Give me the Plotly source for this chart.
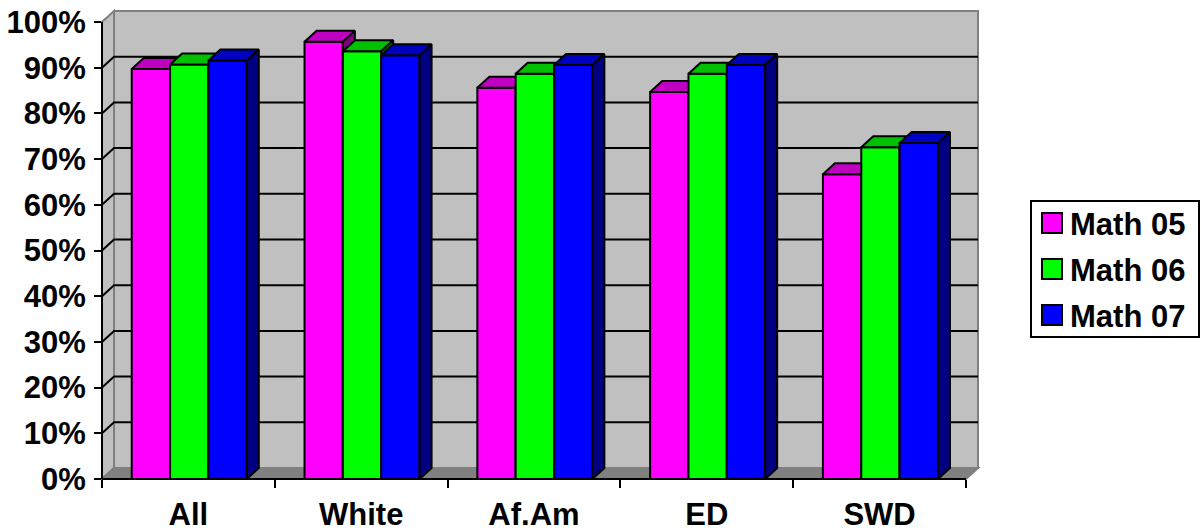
import plotly.graph_objects as go

# ---------------- data ----------------
categories = ["All", "White", "Af.Am", "ED", "SWD"]
series_names = ["Math 05", "Math 06", "Math 07"]
math05 = [89.7, 95.7, 85.6, 84.7, 66.7]
math06 = [90.7, 93.6, 88.7, 88.7, 72.6]
math07 = [91.6, 92.7, 90.6, 90.6, 73.5]
y_tick_values = [0, 10, 20, 30, 40, 50, 60, 70, 80, 90, 100]
y_tick_labels = [f"{v}%" for v in y_tick_values]

series_values = [math05, math06, math07]
front_colors = ["#FF00FF", "#00FF00", "#0000FF"]
top_colors = ["#C000C0", "#00C000", "#0000C0"]
side_colors = ["#800080", "#008000", "#000080"]

# ---------------- geometry / layout ----------------
W, H = 1201, 532
L_PX, R_PX, T_PX, B_PX = 102, 978, 11, 479
cat_px = (965 - 102) / 5.0
DX = 12 / cat_px                 # depth offset (x units)
y_px_per = (479 - 22) / 100.0
DY = 11 / y_px_per               # depth offset (y units)
XMIN, XMAX = -0.5, 4.5 + DX
YMIN, YMAX = 0.0, 100.0 + DY
BAR_W = 38.3 / cat_px
BAR_OFF = 29.7 / cat_px

FONT = "Liberation Sans, Arial, Helvetica, sans-serif"
FSIZE = 31


def xp(x):
    return (x - XMIN) / (XMAX - XMIN)


def yp(y):
    return (y - YMIN) / (YMAX - YMIN)


def px_x(p):
    return (p - L_PX) / (R_PX - L_PX)


def px_y(p):
    return (B_PX - p) / (B_PX - T_PX)


def poly(points):
    return "M " + " L ".join(f"{xp(a):.5f},{yp(b):.5f}" for a, b in points) + " Z"


def pline(points):
    return "M " + " L ".join(f"{xp(a):.5f},{yp(b):.5f}" for a, b in points)


fig = go.Figure()
xs = list(range(len(categories)))

for j, (name, vals) in enumerate(zip(series_names, series_values)):
    off = -0.5 + BAR_OFF + j * BAR_W
    fig.add_trace(go.Bar(
        x=xs, y=vals, width=BAR_W, offset=off, name=name,
        marker=dict(color=front_colors[j], line=dict(color="black", width=2)),
        showlegend=False, hoverinfo="skip", zorder=2 * j,
    ))
    tx, ty, sx, sy = [], [], [], []
    for i, v in enumerate(vals):
        l = i + off
        r = l + BAR_W
        tx += [l, r, r + DX, l + DX, l, None]
        ty += [v, v, v + DY, v + DY, v, None]
        sx += [r, r, r + DX, r + DX, r, None]
        sy += [0, v, v + DY, DY, 0, None]
    fig.add_trace(go.Scatter(
        x=tx, y=ty, mode="lines", fill="toself", fillcolor=top_colors[j],
        line=dict(color="black", width=2), showlegend=False,
        hoverinfo="skip", zorder=2 * j + 1,
    ))
    fig.add_trace(go.Scatter(
        x=sx, y=sy, mode="lines", fill="toself", fillcolor=side_colors[j],
        line=dict(color="black", width=2), showlegend=False,
        hoverinfo="skip", zorder=2 * j + 1,
    ))

shapes = []
# back wall
shapes.append(dict(type="path", xref="paper", yref="paper", layer="below",
                   path=poly([(XMIN + DX, DY), (4.5 + DX, DY), (4.5 + DX, 100 + DY), (XMIN + DX, 100 + DY)]),
                   fillcolor="#C0C0C0", line=dict(color="#808080", width=2)))
# left wall
shapes.append(dict(type="path", xref="paper", yref="paper", layer="below",
                   path=poly([(XMIN, 0), (XMIN, 100), (XMIN + DX, 100 + DY), (XMIN + DX, DY)]),
                   fillcolor="#C0C0C0", line=dict(color="#808080", width=2)))
# floor
shapes.append(dict(type="path", xref="paper", yref="paper", layer="below",
                   path=poly([(XMIN, 0), (4.5, 0), (4.5 + DX, DY), (XMIN + DX, DY)]),
                   fillcolor="#808080", line=dict(color="#808080", width=2)))
# gridlines
for v in y_tick_values[1:-1]:
    shapes.append(dict(type="path", xref="paper", yref="paper", layer="below",
                       path=pline([(XMIN, v), (XMIN + DX, v + DY), (4.5 + DX, v + DY)]),
                       line=dict(color="black", width=2)))
# axis lines
shapes.append(dict(type="line", xref="paper", yref="paper", layer="above",
                   x0=xp(XMIN), x1=xp(4.5), y0=yp(0), y1=yp(0),
                   line=dict(color="black", width=2)))
shapes.append(dict(type="line", xref="paper", yref="paper", layer="above",
                   x0=xp(XMIN), x1=xp(XMIN), y0=yp(0), y1=yp(100),
                   line=dict(color="black", width=2)))

# legend (manual)
annotations = []
box_l, box_r, box_t, box_b = 1031, 1199, 201, 337
shapes.append(dict(type="rect", xref="paper", yref="paper",
                   x0=px_x(box_l), x1=px_x(box_r), y0=px_y(box_b), y1=px_y(box_t),
                   fillcolor="white", line=dict(color="black", width=2)))
row_y = [223, 269, 315]
for j, name in enumerate(series_names):
    cy = row_y[j]
    shapes.append(dict(type="rect", xref="paper", yref="paper",
                       x0=px_x(1042), x1=px_x(1062), y0=px_y(cy + 10), y1=px_y(cy - 10),
                       fillcolor=front_colors[j], line=dict(color="black", width=2)))
    annotations.append(dict(xref="paper", yref="paper", x=px_x(1068), y=px_y(cy + 1),
                            text=name, showarrow=False, xanchor="left", yanchor="middle",
                            font=dict(family=FONT, size=FSIZE, color="black", weight="bold")))

fig.update_layout(
    width=W, height=H,
    margin=dict(l=L_PX, r=W - R_PX, t=T_PX, b=H - B_PX, pad=0, autoexpand=False),
    paper_bgcolor="white", plot_bgcolor="rgba(0,0,0,0)",
    barmode="overlay", showlegend=False,
    shapes=shapes, annotations=annotations,
    xaxis=dict(range=[XMIN, XMAX], showgrid=False, zeroline=False, showline=False,
               automargin=False,
               tickmode="array", tickvals=xs, ticktext=categories, ticks="",
               ticklabelstandoff=14,
               tickfont=dict(family=FONT, size=FSIZE, color="black", weight="bold"),
               minor=dict(tickmode="array", tickvals=[i - 0.5 for i in range(len(categories) + 1)],
                          ticks="outside", ticklen=8, tickwidth=2, tickcolor="black"),
               fixedrange=True),
    yaxis=dict(range=[YMIN, YMAX], showgrid=False, zeroline=False, showline=False,
               automargin=False,
               tickmode="array", tickvals=y_tick_values, ticktext=y_tick_labels,
               ticks="outside", ticklen=7, tickwidth=2, tickcolor="black",
               ticklabelstandoff=2,
               tickfont=dict(family=FONT, size=FSIZE, color="black", weight="bold"),
               fixedrange=True),
)

fig.write_html("out.html", config={"displayModeBar": False},
               post_script="document.body.style.margin='0';")
